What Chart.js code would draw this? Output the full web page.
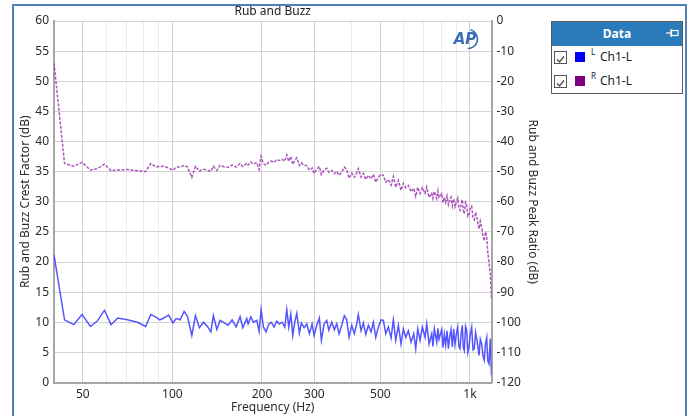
<!DOCTYPE html>
<html>
<head>
<meta charset="utf-8">
<script src="https://cdn.jsdelivr.net/npm/chart.js@4.4.1/dist/chart.umd.min.js"></script>
<style>
  html, body { margin:0; padding:0; background:#fff; width:690px; height:416px; overflow:hidden; }
  #wrap { position:relative; width:690px; height:416px; }
  #c { position:absolute; left:0; top:0; }
  #frame { position:absolute; left:12px; top:4px; width:671px; height:440px; border:2px solid #4f81bd; pointer-events:none; }
  #legend { position:absolute; left:551px; top:21px; width:130px; height:71px; border:1px solid #5a5a5a; background:#fff; font-family:"Noto Sans", sans-serif; }
  #legend .hd { height:24px; background:#2b7bba; color:#fff; font-weight:bold; font-size:12px; line-height:24px; text-align:center; position:relative; }
  #legend .pin { position:absolute; right:3px; top:6px; }
  #legend .row { position:absolute; left:2px; height:13px; font-size:12px; color:#222; }
  #legend .cb { position:absolute; left:0; top:0; width:11px; height:11px; border:1px solid #555; background:#fff; }
  #legend .sw { position:absolute; left:21px; top:1px; width:10px; height:10px; }
  #legend .sup { position:absolute; left:37px; top:-5px; font-size:8px; }
  #legend .lbl { position:absolute; left:46px; top:-3px; white-space:nowrap; }
</style>
</head>
<body>
<div id="wrap">
  <canvas id="c" width="690" height="416"></canvas>
  <div id="frame"></div>
  <div id="legend">
    <div class="hd">Data<svg class="pin" width="13" height="10" viewBox="0 0 13 10"><line x1="0" y1="5" x2="5" y2="5" stroke="#fff" stroke-width="1.2"/><line x1="5" y1="1" x2="5" y2="9" stroke="#fff" stroke-width="1.2"/><rect x="5.5" y="2.5" width="6.5" height="5" fill="none" stroke="#fff" stroke-width="1.2"/></svg></div>
    <div class="row" style="top:29px"><div class="cb"><svg width="11" height="11"><polyline points="2,5.5 4.5,8 9,2.5" fill="none" stroke="#444" stroke-width="1.2"/></svg></div><div class="sw" style="background:#0000ff"></div><span class="sup">L</span><span class="lbl">Ch1-L</span></div>
    <div class="row" style="top:53px"><div class="cb"><svg width="11" height="11"><polyline points="2,5.5 4.5,8 9,2.5" fill="none" stroke="#444" stroke-width="1.2"/></svg></div><div class="sw" style="background:#800080"></div><span class="sup">R</span><span class="lbl">Ch1-L</span></div>
  </div>
</div>
<script>
// ---- data ----
const freqHz = [
  40.0, 43.4, 46.6, 49.7, 53.0, 55.9, 59.1, 62.2, 65.5, 70.5, 76.3, 81.3, 84.6, 87.7, 90.7, 93.5, 97.0, 100.5,
  102.9, 106.1, 109.5, 112.3, 116.2, 119.5, 123.2, 127.1, 131.1, 134.6, 137.3, 141.0, 144.6, 149.2, 153.8, 158.7, 163.7, 168.8, 172.4, 177.8,
  179.6, 183.4, 187.1, 192.1, 195.6, 198.6, 202.2, 206.4, 210.8, 215.0, 219.6, 224.2, 228.8, 233.6, 238.5, 242.3, 246.0, 249.9, 253.8, 257.7,
  261.8, 267.1, 271.3, 277.0, 282.8, 288.6, 294.7, 299.3, 305.6, 311.8, 316.6, 323.3, 330.1, 335.3,
  343.1, 350.1, 356.6, 363.0, 370.7, 378.2, 385.3, 392.2, 400.5, 408.6, 416.3, 421.4, 430.5, 438.2, 446.4, 455.5, 465.1, 473.4, 482.3, 492.1,
  502.5, 511.5, 521.1, 531.7, 542.9, 552.6, 563.0, 574.4, 586.5, 597.0, 608.2, 620.6, 633.7, 647.0, 657.1, 667.4, 679.4, 691.6, 706.2, 715.5,
  728.4, 743.8, 750.6, 758.8, 773.0, 780.2, 786.9, 803.5, 810.9, 819.8, 828.0, 837.1, 846.2, 854.8, 863.4, 872.2, 881.0, 890.6, 899.5, 909.4,
  917.2, 925.7, 934.4, 942.3, 949.7, 957.0, 966.1, 975.0, 983.1, 992.3, 1002.3, 1013.2, 1023.5, 1033.8, 1044.3, 1055.6, 1063.9, 1072.1, 1082.9, 1094.7,
  1105.8, 1117.0, 1127.4, 1137.9, 1147.6, 1158.3, 1170.0, 1180.9
];
// Left axis series: Rub and Buzz Crest Factor (dB) — blue
const crestFactorDb = [
  21.2, 10.4, 9.6, 11.3, 9.3, 10.2, 12.0, 9.6, 10.7, 10.4, 10.0, 9.3, 11.3, 10.9, 10.4, 10.7, 11.2, 9.9,
  10.6, 10.4, 11.8, 11.0, 7.8, 11.1, 9.1, 10.0, 9.3, 8.4, 11.1, 8.8, 10.3, 9.9, 9.5, 10.4, 9.2, 10.9, 9.1, 10.6,
  9.7, 10.9, 10.0, 10.3, 8.5, 12.1, 9.2, 8.4, 9.7, 10.0, 9.2, 10.2, 9.7, 10.0, 9.2, 12.1, 9.2, 11.4, 7.8, 10.0,
  11.5, 8.2, 9.9, 9.1, 9.7, 8.1, 9.7, 7.8, 9.5, 10.7, 7.0, 9.7, 10.3, 8.7,
  10.0, 8.75, 9.75, 8.1, 9.5, 11.1, 10.4, 7.5, 9.5, 8.1, 9.75, 11.3, 8.6, 9.9, 8.0, 9.5, 8.4, 10.0, 7.5, 9.2,
  10.4, 10.3, 8.1, 9.2, 7.4, 10.4, 7.0, 9.5, 6.4, 8.9, 7.5, 8.6, 6.7, 8.1, 5.6, 8.9, 7.0, 9.2, 7.5, 9.75,
  6.4, 8.1, 6.0, 8.9, 6.7, 9.0, 7.2, 8.8, 5.8, 8.0, 6.2, 8.6, 5.6, 7.6, 8.8, 5.9, 8.9, 6.3, 8.0, 9.2,
  6.0, 5.6, 8.3, 9.5, 5.8, 5.3, 9.3, 8.6, 5.0, 5.9, 8.0, 9.2, 5.4, 5.6, 8.3, 7.0, 5.8, 4.5, 7.2, 6.4,
  4.4, 3.7, 6.5, 7.5, 3.6, 3.1, 7.3, 1.2
];
// Right axis series: Rub and Buzz Peak Ratio (dB) — purple
const peakRatioDb = [
  -14.0, -47.3, -48.2, -46.9, -49.5, -49.0, -47.5, -49.7, -49.5, -49.3, -49.7, -50.0, -47.3, -48.4, -48.3, -48.2, -48.8, -49.5,
  -48.5, -48.5, -47.9, -48.4, -51.9, -48.2, -49.8, -49.2, -49.5, -49.9, -48.2, -49.6, -47.9, -48.4, -48.6, -47.8, -48.5, -47.3, -48.3, -47.2,
  -47.8, -46.8, -47.5, -47.0, -49.3, -44.9, -47.3, -47.9, -46.8, -46.5, -47.0, -46.0, -46.3, -45.9, -46.5, -44.4, -46.6, -45.0, -47.6, -46.3,
  -45.4, -47.9, -47.0, -48.0, -48.0, -49.5, -48.8, -50.6, -49.2, -48.3, -51.0, -49.4, -48.9, -50.2,
  -49.6, -50.7, -49.9, -51.2, -50.2, -48.5, -49.3, -52.2, -50.5, -51.9, -50.4, -49.0, -51.8, -50.6, -52.6, -51.2, -52.4, -50.9, -53.5, -51.9,
  -50.9, -51.2, -53.5, -52.6, -54.5, -51.6, -55.2, -52.9, -56.2, -53.9, -55.4, -54.6, -56.7, -55.5, -58.2, -55.2, -57.3, -55.3, -57.2, -55.1,
  -58.6, -57.2, -58.9, -56.6, -59.0, -56.4, -58.5, -57.3, -60.3, -58.5, -60.2, -58.1, -61.0, -59.6, -58.5, -61.4, -59.0, -61.6, -60.0, -58.8,
  -62.0, -62.8, -60.6, -59.3, -63.0, -64.0, -60.2, -61.0, -64.8, -64.3, -62.0, -61.5, -65.5, -66.0, -63.5, -65.5, -67.6, -69.0, -66.5, -68.5,
  -71.5, -73.0, -70.0, -71.5, -77.0, -80.0, -84.0, -92.0
];
const xGridMajor = [50, 100, 200, 300, 500, 1000];
const xTickLabels = ['50', '100', '200', '300', '500', '1k'];
const xGridMinor = [60, 70, 80, 90, 400, 600, 700, 800, 900];

const FONT = '"Noto Sans", "Liberation Sans", sans-serif';
const TXT = '#2b2b2b';

const blueData = freqHz.map((f, i) => ({x: f, y: crestFactorDb[i]}));
const purpleData = freqHz.map((f, i) => ({x: f, y: peakRatioDb[i]}));

const overlay = {
  id: 'overlay',
  afterDraw(chart) {
    const ctx = chart.ctx, a = chart.chartArea;
    ctx.save();
    ctx.fillStyle = '#222';
    ctx.font = '12px ' + FONT;
    ctx.textAlign = 'center';
    ctx.textBaseline = 'middle';
    ctx.fillText('Rub and Buzz', (a.left + a.right) / 2, 12);
    // AP logo
    ctx.fillStyle = '#3a6db4';
    ctx.strokeStyle = '#3a6db4';
    ctx.font = 'italic bold 15px "DejaVu Sans", sans-serif';
    ctx.textAlign = 'center';
    ctx.fillText('AP', 465, 40);
    ctx.lineWidth = 1.6;
    ctx.beginPath();
    ctx.arc(468, 39, 9.5, -1.3, 1.6);
    ctx.stroke();
    ctx.restore();
  }
};

new Chart(document.getElementById('c'), {
  type: 'line',
  data: {
    datasets: [
      { label: 'L Ch1-L', data: purpleData.length ? blueData : [], yAxisID: 'y', borderColor: 'rgba(55,55,255,0.85)', borderWidth: 1.5, pointRadius: 0, tension: 0, fill: false, order: 2 },
      { label: 'R Ch1-L', data: purpleData, yAxisID: 'y2', borderColor: 'rgba(150,45,170,0.8)', borderWidth: 1.5, borderDash: [3, 1.5], pointRadius: 0, tension: 0, fill: false, order: 1 }
    ]
  },
  options: {
    responsive: false,
    animation: false,
    devicePixelRatio: 1,
    layout: { padding: { left: 13, right: 145, top: 21, bottom: 0 } },
    plugins: { legend: { display: false }, title: { display: false }, tooltip: { enabled: false } },
    scales: {
      x: {
        type: 'logarithmic',
        position: 'bottom',
        min: 40, max: 1181,
        afterBuildTicks(scale) {
          scale.ticks = xGridMajor.concat(xGridMinor).sort((a, b) => a - b).map(v => ({ value: v }));
        },
        afterFit(scale) { scale.height = 33.5; },
        ticks: {
          autoSkip: false, maxRotation: 0, minRotation: 0, padding: 5,
          color: TXT, font: { family: FONT, size: 12 },
          callback(v) { const i = xGridMajor.indexOf(v); return i >= 0 ? xTickLabels[i] : ''; }
        },
        grid: {
          drawTicks: false,
          color(ctx) { return ctx.tick && xGridMajor.includes(ctx.tick.value) ? '#cfcfcf' : '#ebebeb'; },
          lineWidth: 1
        },
        border: { color: '#a6a6a6', width: 2 },
        title: { display: true, text: 'Frequency (Hz)', color: TXT, font: { family: FONT, size: 12 }, padding: { top: 0, bottom: 1 } }
      },
      y: {
        position: 'left',
        min: 0, max: 60,
        afterFit(scale) { scale.width = 41; },
        ticks: { stepSize: 5, padding: 5, color: TXT, font: { family: FONT, size: 12 } },
        grid: { drawTicks: false, color: '#d4d4d4', lineWidth: 1 },
        border: { color: '#a6a6a6', width: 2 },
        title: { display: true, text: 'Rub and Buzz Crest Factor (dB)', color: TXT, font: { family: FONT, size: 12 }, padding: { top: 5, bottom: 0 } }
      },
      y2: {
        position: 'right',
        min: -120, max: 0,
        afterFit(scale) { scale.width = 53.5; },
        ticks: { stepSize: 10, padding: 5, color: TXT, font: { family: FONT, size: 12 } },
        grid: { drawOnChartArea: false, drawTicks: false },
        border: { color: '#a6a6a6', width: 2 },
        title: { display: true, text: 'Rub and Buzz Peak Ratio (dB)', color: TXT, font: { family: FONT, size: 12 }, padding: { top: 5, bottom: 0 } }
      }
    }
  },
  plugins: [overlay]
});
</script>
</body>
</html>
